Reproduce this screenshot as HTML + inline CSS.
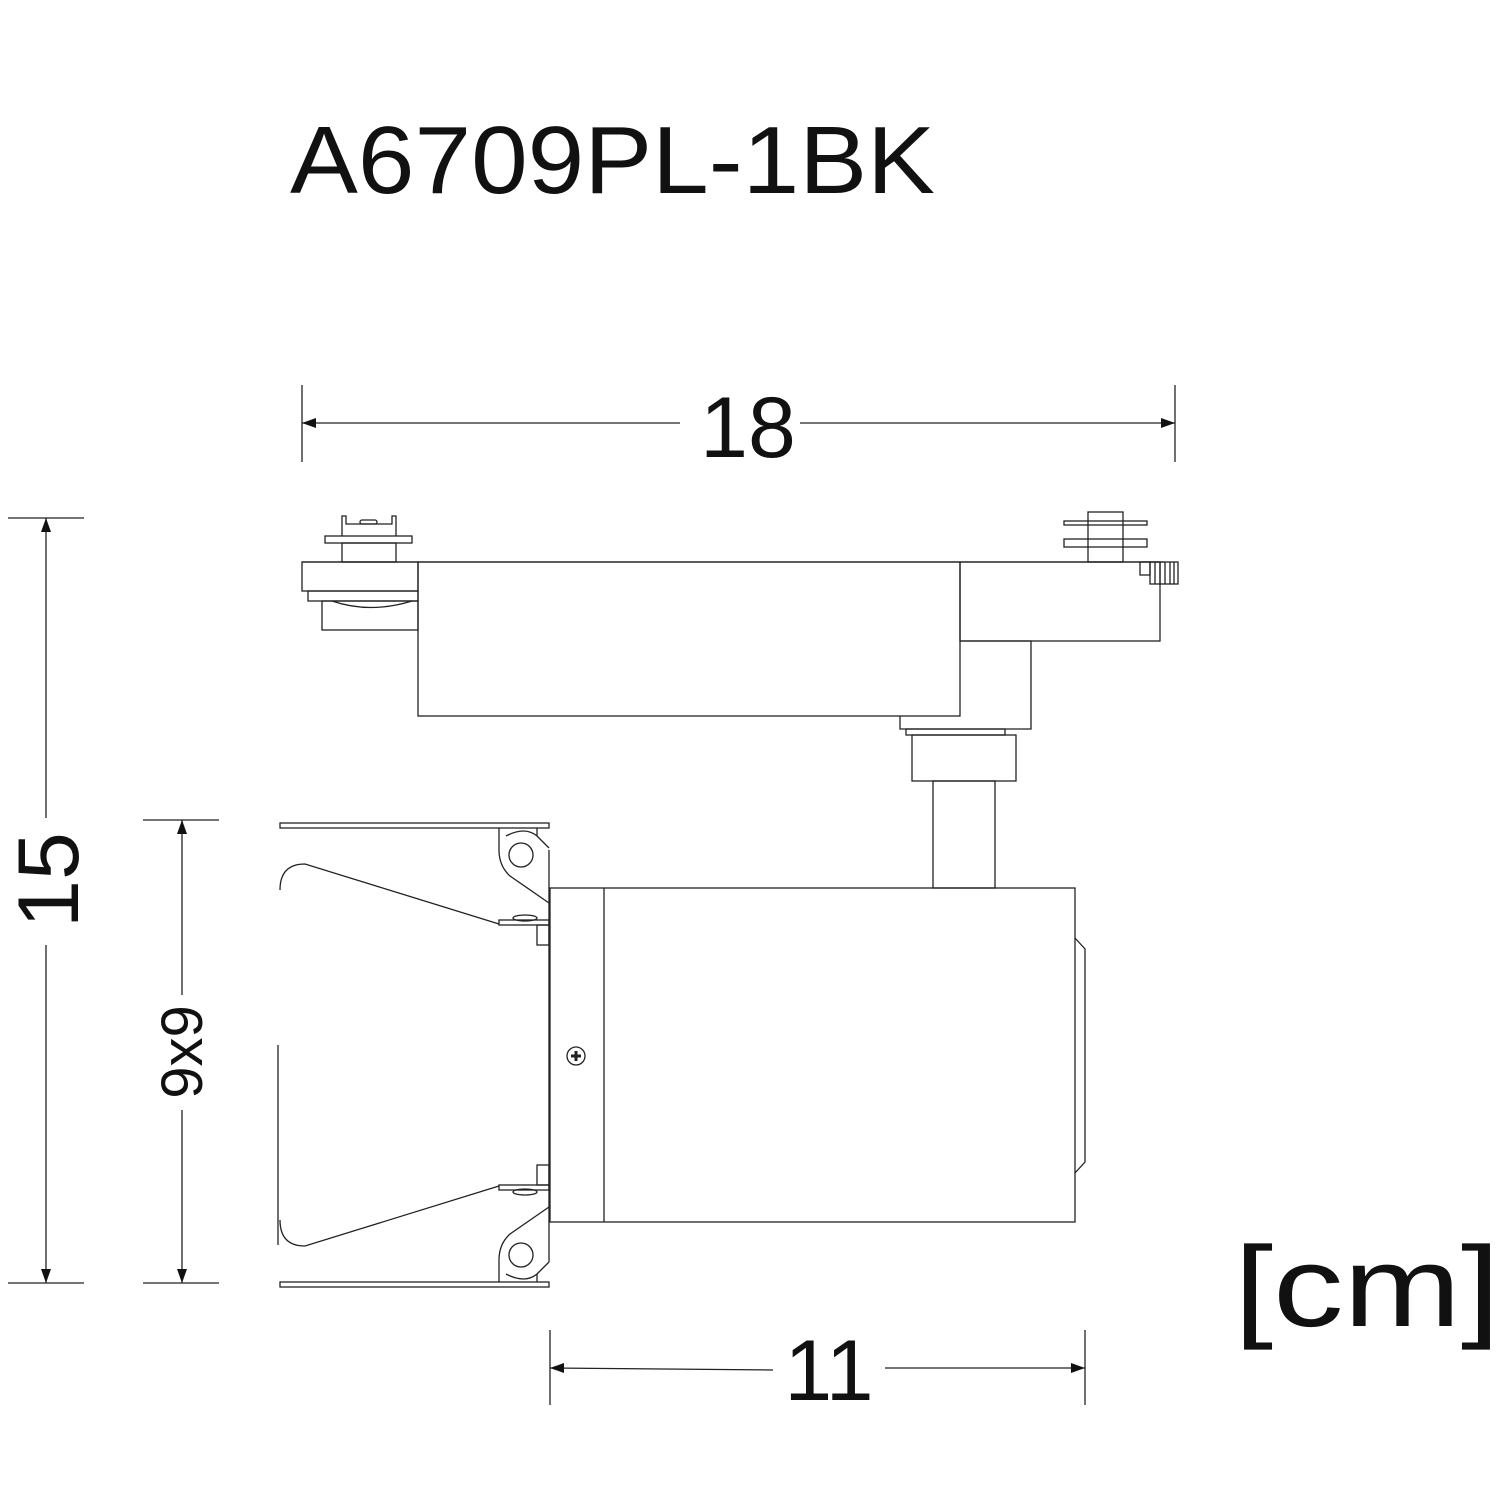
<!DOCTYPE html>
<html><head><meta charset="utf-8"><style>
html,body{margin:0;padding:0;background:#fff;}
svg{display:block}
text{font-family:"Liberation Sans",Arial,sans-serif;fill:#111}
</style></head><body>
<svg width="1500" height="1500" viewBox="0 0 1500 1500" xmlns="http://www.w3.org/2000/svg">
<text x="290" y="193" font-size="96" textLength="645" lengthAdjust="spacingAndGlyphs">A6709PL-1BK</text>

<g stroke="#222" stroke-width="1.3" fill="none">
<line x1="302" y1="385" x2="302" y2="462"/><line x1="1175" y1="385" x2="1175" y2="462"/>
<line x1="302" y1="423" x2="680" y2="423"/><line x1="800" y1="423" x2="1175" y2="423"/>
<line x1="8" y1="518" x2="84" y2="518"/><line x1="8" y1="1283" x2="84" y2="1283"/>
<line x1="46" y1="518" x2="46" y2="818"/><line x1="46" y1="945" x2="46" y2="1283"/>
<line x1="143" y1="820" x2="219" y2="820"/><line x1="143" y1="1283" x2="219" y2="1283"/>
<line x1="182" y1="820" x2="182" y2="995"/><line x1="182" y1="1110" x2="182" y2="1283"/>
<line x1="550" y1="1330" x2="550" y2="1405"/><line x1="1085" y1="1330" x2="1085" y2="1405"/>
<line x1="550" y1="1368" x2="773" y2="1370"/><line x1="885" y1="1368" x2="1085" y2="1368"/>

<rect x="418" y="562" width="542" height="154"/>
<line x1="302" y1="562" x2="1164" y2="562"/>
<rect x="302" y="562" width="116" height="29"/>
<rect x="308" y="591" width="110" height="10"/>
<rect x="322" y="601" width="96" height="29"/>
<path d="M332,601 Q370,614 412,601"/>
<rect x="342" y="543" width="54" height="19"/>
<rect x="325" y="536" width="87" height="7"/>
<path d="M342,536 V516 H346 V524 H392 V516 H396 V536"/>
<rect x="360" y="520" width="17" height="4" rx="2"/>
<rect x="1088" y="512" width="35" height="50"/>
<rect x="1064" y="521" width="83" height="4"/>
<rect x="1064" y="539" width="83" height="8"/>
<rect x="960" y="562" width="200" height="79"/>
<rect x="1140" y="562" width="10" height="13"/>
<rect x="1150" y="562" width="28" height="22"/>
<path d="M1155,562V584M1160,562V584M1165,562V584M1170,562V584M1174,562V584"/>
<path d="M960,641 H1031 V729 H900 V716"/>
<rect x="906" y="729" width="99" height="6"/>
<rect x="912" y="735" width="104" height="46"/>
<rect x="933" y="781" width="62" height="107"/>

<rect x="550" y="888" width="525" height="334"/>
<line x1="604" y1="888" x2="604" y2="1222"/>
<line x1="549" y1="850" x2="549" y2="1262"/>
<path d="M1075,938 L1085,949 V1162 L1075,1173"/>
<circle cx="576" cy="1056" r="9"/>
<path d="M571,1056H581M576,1051V1061" stroke-width="3"/>

<rect x="280" y="823" width="269" height="5"/>
<rect x="280" y="1282" width="269" height="5"/>
<g>
<path d="M499,828 V850 Q499,866 510,876 L549,903"/>
<path d="M537,828 V836"/>
<path d="M506,836 Q525,826 537,836 L549,848"/>
<circle cx="521" cy="855" r="12"/>
<path d="M280,890 Q280,864 305,864 L499,924"/>
<rect x="499" y="920" width="50" height="5"/>
<ellipse cx="525" cy="918" rx="12" ry="3"/>
<rect x="537" y="925" width="12" height="20"/>
</g>
<g transform="translate(0,2110) scale(1,-1)">
<path d="M499,828 V850 Q499,866 510,876 L549,903"/>
<path d="M537,828 V836"/>
<path d="M506,836 Q525,826 537,836 L549,848"/>
<circle cx="521" cy="855" r="12"/>
<path d="M280,890 Q280,864 305,864 L499,924"/>
<rect x="499" y="920" width="50" height="5"/>
<ellipse cx="525" cy="918" rx="12" ry="3"/>
<rect x="537" y="925" width="12" height="20"/>
</g>
<line x1="278" y1="1045" x2="278" y2="1245"/>
</g>

<g fill="#111">
<path d="M302,423 l14,-5 v10z"/><path d="M1175,423 l-14,-5 v10z"/>
<path d="M46,518 l-5,14 h10z"/><path d="M46,1283 l-5,-14 h10z"/>
<path d="M182,820 l-5,14 h10z"/><path d="M182,1283 l-5,-14 h10z"/>
<path d="M550,1368 l14,-5 v10z"/><path d="M1085,1368 l-14,-5 v10z"/>
</g>

<text x="748" y="457" font-size="86" text-anchor="middle">18</text>
<text x="829" y="1400" font-size="86" text-anchor="middle">11</text>
<text transform="translate(78,880) rotate(-90)" font-size="86" text-anchor="middle">15</text>
<text transform="translate(202,1052) rotate(-90)" font-size="58" text-anchor="middle">9x9</text>
<text x="1234" y="1326" font-size="114" textLength="266" lengthAdjust="spacingAndGlyphs">[cm]</text>
</svg>
</body></html>
